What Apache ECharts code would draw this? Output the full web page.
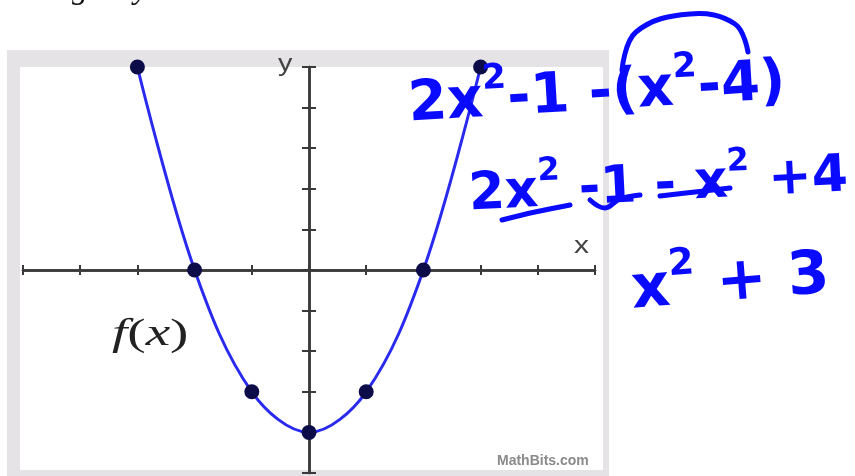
<!DOCTYPE html>
<html>
<head>
<meta charset="utf-8">
<title>f(x) graph with worked steps</title>
<script src="https://cdn.jsdelivr.net/npm/echarts@6/dist/echarts.min.js"></script>
<style>
  html, body { margin: 0; padding: 0; background: #ffffff; }
  #chart { width: 855px; height: 476px; }
</style>
</head>
<body>
<div id="chart"></div>
<script>
// Plotted points of f(x)
const xValues = [-3, -2, -1, 0, 1, 2, 3];
const fValues = [5, 0, -3, -4, -3, 0, 5];

// Axis extents and tick step
const axisMin = -5;
const axisMax = 5;
const tickStep = 1;

// Worked-step lines written beside the graph
const stepLine1 = ['2x', '2', '-1 -(x', '2', '-4)'];
const stepLine2 = ['2x', '2', ' -1 - x', '2', ' +4'];
const stepLine3 = ['x', '2', ' + 3'];

const chart = echarts.init(document.getElementById('chart'), null, { renderer: 'canvas' });

const axisColor = '#3a3a3a';
const ink = '#0a0aff';
const handFont = '"DejaVu Sans", sans-serif';

function makeX(position) {
  return {
    type: 'value', min: axisMin, max: axisMax, interval: tickStep, position: position,
    axisLine: { show: true, onZero: true, onZeroAxisIndex: 0, lineStyle: { color: axisColor, width: 2.5 } },
    axisTick: { show: true, inside: false, length: 5, lineStyle: { color: axisColor, width: 2 } },
    axisLabel: { show: false }, splitLine: { show: false }
  };
}
function makeY(position) {
  return {
    type: 'value', min: axisMin, max: axisMax, interval: tickStep, position: position,
    axisLine: { show: true, onZero: true, onZeroAxisIndex: 0, lineStyle: { color: axisColor, width: 2.5 } },
    axisTick: { show: true, inside: false, length: 7, lineStyle: { color: axisColor, width: 2 } },
    axisLabel: { show: false }, splitLine: { show: false }
  };
}

// rich-text line: alternate normal / superscript pieces
function richLine(parts) {
  return parts.map((p, i) => (i % 2 === 0 ? '{n|' + p + '}' : '{s|' + p + '}')).join('');
}
function handRich(size) {
  return {
    n: { fontFamily: handFont, fontWeight: 'bold', fontSize: size, fill: ink, lineHeight: size * 1.2, verticalAlign: 'bottom' },
    s: { fontFamily: handFont, fontWeight: 'bold', fontSize: size * 0.62, fill: ink, lineHeight: size * 0.7, verticalAlign: 'top' }
  };
}
function stroke(points) {
  return {
    type: 'polyline', z: 100,
    shape: { points: points, smooth: 0.4 },
    style: { stroke: ink, lineWidth: 5, lineCap: 'round', lineJoin: 'round', fill: null }
  };
}

const option = {
  animation: false,
  backgroundColor: '#ffffff',
  grid: { left: 23, top: 67, width: 572, height: 406, containLabel: false },
  xAxis: [makeX('bottom'), makeX('top')],
  yAxis: [makeY('left'), makeY('right')],
  series: [{
    type: 'line',
    xAxisIndex: 0, yAxisIndex: 0,
    data: xValues.map((x, i) => [x, fValues[i]]),
    smooth: 0.35,
    clip: false,
    symbol: 'circle', symbolSize: 15,
    itemStyle: { color: '#0c0c48' },
    lineStyle: { color: '#2a2aef', width: 3 },
    z: 5
  }],
  graphic: [
    // grey frame around the plot
    { type: 'rect', z: -10, shape: { x: 7, y: 50, width: 602, height: 440 }, style: { fill: '#e6e3e7' } },
    { type: 'rect', z: -9, shape: { x: 20, y: 67, width: 583, height: 403 }, style: { fill: '#ffffff' } },

    // question header, mostly above the page edge
    { type: 'text', x: 0, y: -27, style: { text: '25.', font: 'bold 30px "Liberation Sans", sans-serif', fill: '#111', verticalAlign: 'top' } },
    { type: 'text', x: 72, y: -26, style: { text: 'g', font: 'italic 32px "Liberation Serif", serif', fill: '#111', verticalAlign: 'top' } },
    { type: 'text', x: 134, y: -26, style: { text: 'y', font: 'italic 32px "Liberation Serif", serif', fill: '#111', verticalAlign: 'top' } },

    // axis names and curve label
    { type: 'text', x: 574, y: 234, scaleX: 1.25, style: { text: 'x', font: '24px "Liberation Sans", sans-serif', fill: '#444', verticalAlign: 'top' } },
    { type: 'text', x: 278, y: 52, scaleX: 1.2, style: { text: 'y', font: '24px "Liberation Sans", sans-serif', fill: '#444', verticalAlign: 'top' } },
    { type: 'text', x: 112, y: 316, scaleX: 1.45, style: {
        text: '{i|f}{p|(}{i|x}{p|)}',
        rich: {
          i: { fontFamily: '"Liberation Serif", serif', fontStyle: 'italic', fontSize: 38, fill: '#222' },
          p: { fontFamily: '"Liberation Serif", serif', fontSize: 38, fill: '#222' }
        }
      } },
    { type: 'text', x: 497, y: 454, style: { text: 'MathBits.com', font: 'bold 14px "Liberation Sans Narrow", "Liberation Sans", sans-serif', fill: '#8a8a8a', verticalAlign: 'top' } },

    // handwritten working
    { type: 'text', z: 100, x: 410, y: 134, rotation: 0.06, style: { text: richLine(stepLine1), rich: handRich(56), verticalAlign: 'bottom' } },
    stroke([[622, 70], [636, 32], [690, 14], [735, 24], [748, 52]]),
    { type: 'text', z: 100, x: 470, y: 222, rotation: 0.05, style: { text: richLine(stepLine2), rich: handRich(52), verticalAlign: 'bottom' } },
    stroke([[502, 220], [535, 212], [570, 205]]),
    stroke([[590, 200], [605, 208], [620, 199], [640, 195]]),
    stroke([[660, 196], [695, 192], [730, 188]]),
    { type: 'text', z: 100, x: 634, y: 322, rotation: 0.08, style: { text: richLine(stepLine3), rich: handRich(60), verticalAlign: 'bottom' } }
  ]
};

chart.setOption(option);
</script>
</body>
</html>
